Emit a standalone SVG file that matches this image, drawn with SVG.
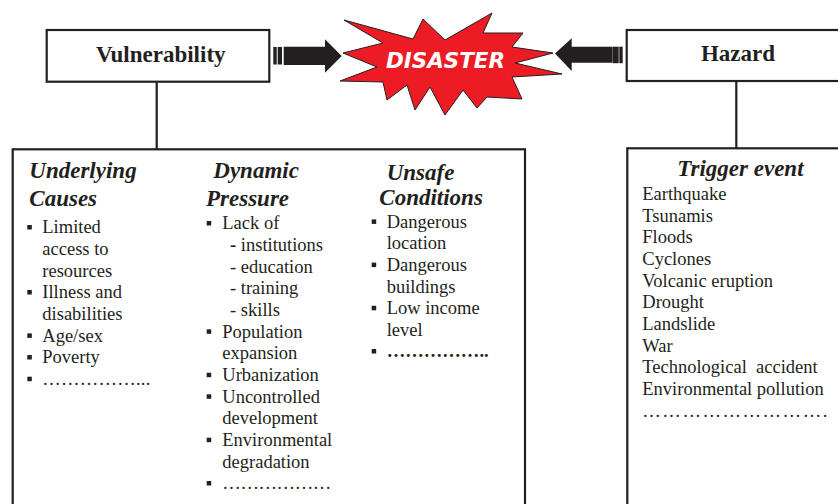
<svg xmlns="http://www.w3.org/2000/svg" width="838" height="504" viewBox="0 0 838 504">
<style>
.box{fill:#fff;stroke:#231F20;stroke-width:2.2}
.ln{stroke:#231F20;stroke-width:2.2;fill:none}
.ttl{font-family:"Liberation Serif",serif;font-weight:bold;font-size:23px;fill:#231F20}
.hd{font-family:"Liberation Serif",serif;font-weight:bold;font-style:italic;font-size:23px;fill:#231F20}
.it{font-family:"Liberation Serif",serif;font-size:18.5px;fill:#231F20}
.bl{fill:#231F20}
.arr{fill:#231F20}
</style>
<defs>
<rect id="b" width="4.5" height="4.5" class="bl"/>
</defs>
<rect width="838" height="504" fill="#fff"/>
<g id="connectors">
<line class="ln" x1="156.7" y1="81.7" x2="156.7" y2="149.3"/>
<line class="ln" x1="736.3" y1="81" x2="736.3" y2="148.3"/>
<g id="arrow-left" class="arr">
<rect x="273.3" y="47" width="3.4" height="17.5"/>
<rect x="277.7" y="47" width="4.3" height="17.5"/>
<polygon points="283.7,46.7 325,46.7 325,39.3 341.7,56 325,72.7 325,65 283.7,65"/>
</g>
<g id="arrow-right" class="arr">
<rect x="619.3" y="46.7" width="3.4" height="16.5"/>
<rect x="613" y="46.7" width="5.7" height="16.5"/>
<polygon points="612.7,46.7 571.7,46.7 571.7,38.3 555,53.5 571.7,71 571.7,62.7 612.7,62.7"/>
</g>
</g>
<g id="vulnerability">
<rect class="box" x="46.7" y="30" width="222.6" height="51.7"/>
<text class="ttl" x="160.8" y="61.5" text-anchor="middle">Vulnerability</text>
</g>
<g id="hazard">
<rect class="box" x="626.7" y="30" width="220" height="51"/>
<text class="ttl" x="738" y="61" text-anchor="middle">Hazard</text>
</g>
<g id="disaster">
<polygon points="344,20 413,39 423,19 445,40 492,13 483,33 523,33 512,47 553,53 515,63 562,74 512,77 522,99 487,97 477,108 463,90 445,115 430,87 415,110 407,85 387,100 383,82 340,81 377,67 343,53 383,43" fill="#ED1C24" stroke="#231F20" stroke-width="1" stroke-linejoin="miter"/>
<text x="445.5" y="68.3" text-anchor="middle" font-family="DejaVu Sans, sans-serif" font-weight="bold" font-style="italic" font-size="20.5" fill="#fff" textLength="119" lengthAdjust="spacingAndGlyphs">DISASTER</text>
</g>
<g id="vulnerability-factors">
<rect class="box" x="12.7" y="149.3" width="512.3" height="370"/>
<text class="hd" x="29.3" y="178">Underlying</text>
<text class="hd" x="29.3" y="205.5">Causes</text>
<g class="it">
<text x="42.3" y="233.3">Limited</text>
<text x="42.3" y="255">access to</text>
<text x="42.3" y="276.7">resources</text>
<text x="42.3" y="298.3">Illness and</text>
<text x="42.3" y="320">disabilities</text>
<text x="42.3" y="341.7">Age/sex</text>
<text x="42.3" y="363.3">Poverty</text>
<text x="42.3" y="385" textLength="108" lengthAdjust="spacing">……………...</text>
</g>
<use href="#b" x="27.3" y="225"/>
<use href="#b" x="27.3" y="290"/>
<use href="#b" x="27.3" y="333.4"/>
<use href="#b" x="27.3" y="355"/>
<use href="#b" x="27.3" y="376.7"/>
<text class="hd" x="213.3" y="178">Dynamic</text>
<text class="hd" x="206" y="205.5">Pressure</text>
<g class="it">
<text x="222.3" y="229.3">Lack of</text>
<text x="230" y="251"><tspan font-weight="bold">-</tspan> institutions</text>
<text x="230" y="272.6">- education</text>
<text x="230" y="294.3">- training</text>
<text x="230" y="316">- skills</text>
<text x="222.3" y="337.6">Population</text>
<text x="222.3" y="359.3">expansion</text>
<text x="222.3" y="381">Urbanization</text>
<text x="222.3" y="402.6">Uncontrolled</text>
<text x="222.3" y="424.3">development</text>
<text x="222.3" y="446">Environmental</text>
<text x="222.3" y="467.6">degradation</text>
<text x="222.3" y="489.3" textLength="109" lengthAdjust="spacing">………………</text>
</g>
<use href="#b" x="206.7" y="221"/>
<use href="#b" x="206.7" y="329.3"/>
<use href="#b" x="206.7" y="372.7"/>
<use href="#b" x="206.7" y="394.3"/>
<use href="#b" x="206.7" y="437.7"/>
<use href="#b" x="206.7" y="481"/>
<text class="hd" x="386.7" y="180">Unsafe</text>
<text class="hd" x="379.3" y="205">Conditions</text>
<g class="it">
<text x="386.7" y="227.7">Dangerous</text>
<text x="386.7" y="249.3">location</text>
<text x="386.7" y="270.9">Dangerous</text>
<text x="386.7" y="292.5">buildings</text>
<text x="386.7" y="314.1">Low income</text>
<text x="386.7" y="335.7">level</text>
<text x="386.7" y="357.3" font-weight="bold" textLength="102" lengthAdjust="spacing">……………..</text>
</g>
<use href="#b" x="371.7" y="219.4"/>
<use href="#b" x="371.7" y="262.6"/>
<use href="#b" x="371.7" y="305.8"/>
<use href="#b" x="371.7" y="349"/>
</g>
<g id="trigger-event">
<rect class="box" x="627.3" y="148.3" width="220" height="370"/>
<text class="hd" x="677.3" y="176">Trigger event</text>
<g class="it">
<text x="642.3" y="200">Earthquake</text>
<text x="642.3" y="221.6">Tsunamis</text>
<text x="642.3" y="243.3">Floods</text>
<text x="642.3" y="265">Cyclones</text>
<text x="642.3" y="286.6">Volcanic eruption</text>
<text x="642.3" y="308.3">Drought</text>
<text x="642.3" y="329.9">Landslide</text>
<text x="642.3" y="351.6">War</text>
<text x="642.3" y="373.2" xml:space="preserve">Technological  accident</text>
<text x="642.3" y="394.9">Environmental pollution</text>
<text x="642.3" y="416.5" textLength="185" lengthAdjust="spacing">……………………….</text>
</g>
</g>
</svg>
